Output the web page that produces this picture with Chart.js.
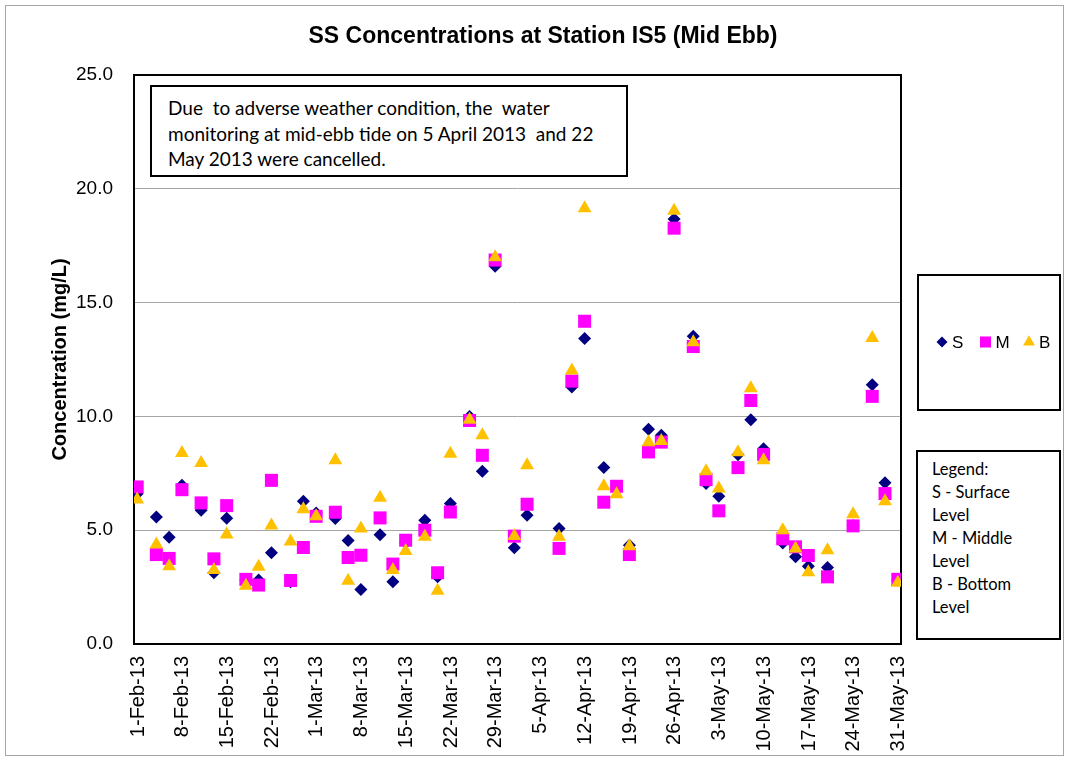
<!DOCTYPE html>
<html>
<head>
<meta charset="utf-8">
<script src="https://cdn.jsdelivr.net/npm/chart.js@4.4.0/dist/chart.umd.min.js"></script>
<style>
  body { margin: 0; background: #fff; }
  #wrap { position: relative; width: 1069px; height: 761px; }
  .box {
    position: absolute; box-sizing: border-box; background: #fff;
    border: 2px solid #000; white-space: pre; color: #000;
    font-family: Lato, "Open Sans", sans-serif;
  }
  #note { left: 150px; top: 85px; width: 478px; height: 92px; padding: 8px 0 0 16px; font-size: 19px; line-height: 25.5px; }
  #key { left: 916px; top: 450px; width: 145px; height: 190px; padding: 6px 0 0 14px; font-size: 16.5px; line-height: 23px; }
</style>
</head>
<body>
<div id="wrap">
  <canvas id="grafico" width="1069" height="761"></canvas>
  <div class="box" id="note">Due  to adverse weather condition, the  water
monitoring at mid-ebb tide on 5 April 2013  and 22
May 2013 were cancelled.</div>
  <div class="box" id="key">Legend:
S - Surface
Level
M - Middle
Level
B - Bottom
Level</div>
</div>
<script>
// sampling days (mid-ebb), 2013
const fechas = [
  '2013-02-01', '2013-02-04', '2013-02-06', '2013-02-08', '2013-02-11', '2013-02-13',
  '2013-02-15', '2013-02-18', '2013-02-20', '2013-02-22', '2013-02-25', '2013-02-27',
  '2013-03-01', '2013-03-04', '2013-03-06', '2013-03-08', '2013-03-11', '2013-03-13',
  '2013-03-15', '2013-03-18', '2013-03-20', '2013-03-22', '2013-03-25', '2013-03-27',
  '2013-03-29', '2013-04-01', '2013-04-03', '2013-04-08', '2013-04-10', '2013-04-12',
  '2013-04-15', '2013-04-17', '2013-04-19', '2013-04-22', '2013-04-24', '2013-04-26',
  '2013-04-29', '2013-05-01', '2013-05-03', '2013-05-06', '2013-05-08', '2013-05-10',
  '2013-05-13', '2013-05-15', '2013-05-17', '2013-05-20', '2013-05-24', '2013-05-27',
  '2013-05-29', '2013-05-31'
]

// SS (mg/L) at each depth
const surface = [
  6.6, 5.58, 4.69, 6.97, 5.88, 3.13, 5.53, 2.8, 2.81, 4.01, 2.73, 6.27,
  5.76, 5.51, 4.55, 2.4, 4.8, 2.73, 4.45, 5.44, 2.95, 6.17, 10.0, 7.59, 16.6,
  4.23, 5.66, 5.07, 11.29, 13.42, 7.75, 6.8, 4.34, 9.44, 9.17, 18.67, 13.52,
  7.05, 6.49, 8.32, 9.85, 8.58, 4.44, 3.83, 3.42, 3.36, 5.2, 11.39, 7.09, 2.8
]
const middle = [
  6.9, 3.93, 3.76, 6.78, 6.2, 3.74, 6.08, 2.84, 2.59, 7.19, 2.79, 4.24,
  5.61, 5.79, 3.8, 3.9, 5.54, 3.51, 4.56, 5.0, 3.13, 5.8, 9.82, 8.29, 16.87,
  4.74, 6.14, 4.2, 11.55, 14.18, 6.23, 6.93, 3.93, 8.44, 8.87, 18.27, 13.07,
  7.22, 5.85, 7.75, 10.7, 8.33, 4.62, 4.27, 3.89, 2.95, 5.19, 10.88, 6.61, 2.84
]
const bottom = [
  6.35, 4.37, 3.42, 8.39, 7.95, 3.25, 4.81, 2.56, 3.39, 5.21, 4.5, 5.92,
  5.61, 8.07, 2.78, 5.07, 6.43, 3.25, 4.09, 4.71, 2.34, 8.36, 9.85, 9.17, 16.99,
  4.74, 7.85, 4.71, 12.02, 19.15, 6.93, 6.58, 4.3, 8.86, 8.92, 19.04, 13.26,
  7.59, 6.83, 8.42, 11.24, 8.07, 5.0, 4.2, 3.15, 4.12, 5.7, 13.45, 6.27, 2.69
]

const etiquetas = [
  '1-Feb-13', '8-Feb-13', '15-Feb-13', '22-Feb-13', '1-Mar-13', '8-Mar-13',
  '15-Mar-13', '22-Mar-13', '29-Mar-13', '5-Apr-13', '12-Apr-13', '19-Apr-13',
  '26-Apr-13', '3-May-13', '10-May-13', '17-May-13', '24-May-13', '31-May-13'
]
const valoresY = [0, 5, 10, 15, 20, 25]

const DIA = 86400000
const inicio = Date.UTC(2013, 1, 1)
const aDia = s => (Date.parse(s + 'T00:00:00Z') - inicio) / DIA

// points sit in the middle of their day, like a date axis
const puntos = serie => fechas.map((f, i) => ({ x: aDia(f) + 0.5, y: serie[i] }))
const diasTicks = etiquetas.map(e => aDia(new Date(e.replace(/-13$/, '-2013') + ' UTC').toISOString().slice(0, 10)))

const ARIAL = '"Liberation Sans", Arial, sans-serif'
Chart.defaults.color = '#000'
Chart.defaults.font.family = ARIAL

const marco = {
  id: 'marco',
  beforeDraw(chart) {
    const ctx = chart.ctx
    ctx.save()
    ctx.fillStyle = '#fff'
    ctx.fillRect(0, 0, chart.width, chart.height)
    ctx.strokeStyle = '#a6a6a6'
    ctx.lineWidth = 1
    ctx.strokeRect(5.5, 5.5, chart.width - 11, chart.height - 11)
    ctx.restore()
  },
  beforeDatasetsDraw(chart) {
    const { ctx, chartArea: a } = chart
    ctx.save()
    ctx.strokeStyle = '#000'
    ctx.lineWidth = 2
    ctx.strokeRect(a.left, a.top, a.right - a.left, a.bottom - a.top)
    ctx.restore()
  }
}

const leyenda = {
  id: 'leyenda',
  afterDraw(chart) {
    const ctx = chart.ctx
    ctx.save()
    ctx.strokeStyle = '#000'
    ctx.lineWidth = 2
    ctx.strokeRect(918, 275, 142, 135)
    ctx.font = '17px ' + ARIAL
    ctx.textBaseline = 'middle'
    chart.data.datasets.forEach((ds, i) => {
      const x = 942 + i * 43.5
      ctx.fillStyle = ds.backgroundColor
      Chart.helpers.drawPoint(ctx, {
        pointStyle: ds.pointStyle, radius: ds.pointRadius * 0.85, rotation: 0, borderWidth: 0
      }, x, 342)
      ctx.fillStyle = '#000'
      ctx.fillText(ds.label, x + 10, 343)
    })
    ctx.restore()
  }
}

const serie = (label, data, color, estilo, radio, orden) => ({
  label: label,
  data: puntos(data),
  backgroundColor: color,
  borderWidth: 0,
  pointStyle: estilo,
  pointRadius: radio,
  pointHoverRadius: radio,
  order: orden,
  xAxisID: 'x',
  yAxisID: 'y'
})

new Chart(document.getElementById('grafico'), {
  type: 'scatter',
  data: {
    datasets: [
      serie('S', surface, '#000080', 'rectRot', 6.5, 3),
      serie('M', middle, '#ff00ff', 'rect', 9.2, 2),
      serie('B', bottom, '#ffc000', 'triangle', 8, 1)
    ]
  },
  options: {
    responsive: false,
    animation: false,
    events: [],
    devicePixelRatio: 1,
    layout: { padding: { left: 17, top: 0, right: 0, bottom: 0 } },
    plugins: {
      legend: { display: false },
      tooltip: { enabled: false },
      title: {
        display: true,
        text: 'SS Concentrations at Station IS5 (Mid Ebb)',
        font: { size: 23, weight: 'bold' },
        padding: { top: 23, bottom: 24.4 }
      }
    },
    scales: {
      x: {
        type: 'linear',
        min: 0,
        max: 120,
        grid: { display: false, drawTicks: false },
        border: { display: false },
        afterBuildTicks(s) { s.ticks = diasTicks.map(v => ({ value: v })) },
        afterFit(s) { s.height = 117 },
        ticks: {
          autoSkip: false,
          minRotation: 90,
          maxRotation: 90,
          padding: 12,
          labelOffset: 4,
          font: { size: 20 },
          callback: (v, i) => etiquetas[i]
        }
      },
      y: {
        position: 'left',
        min: 0,
        max: 25,
        grid: { color: '#a6a6a6', lineWidth: 1, drawTicks: false },
        border: { display: false },
        afterBuildTicks(s) { s.ticks = valoresY.map(v => ({ value: v })) },
        afterFit(s) { s.width = 117 },
        ticks: {
          padding: 21,
          font: { size: 19 },
          callback: v => v.toFixed(1)
        },
        title: {
          display: true,
          text: 'Concentration (mg/L)',
          font: { size: 20, weight: 'bold' },
          padding: { top: 31, bottom: 0 }
        }
      },
      derecha: {
        type: 'linear',
        position: 'right',
        grid: { display: false },
        border: { display: false },
        ticks: { display: false },
        afterFit(s) { s.width = 168 }
      }
    }
  },
  plugins: [marco, leyenda]
})
</script>
</body>
</html>
